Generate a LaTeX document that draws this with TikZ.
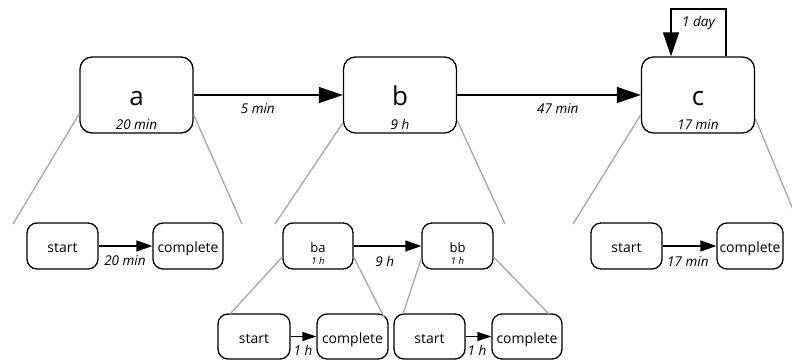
\documentclass[tikz,border=0pt]{standalone}
\usepackage{fontspec}
\setmainfont{Open Sans}
\usetikzlibrary{arrows.meta}
\definecolor{linegray}{RGB}{166,166,166}
\begin{document}
\begin{tikzpicture}[x=1pt,y=-1pt,
  box/.style={draw, line width=1.3pt, inner sep=0pt},
  big/.style={box, rounded corners=12pt, minimum width=113pt, minimum height=76pt,
    font=\fontsize{26}{26}\selectfont, text height=20pt, text depth=0pt},
  sub/.style={box, rounded corners=10pt, minimum height=46pt,
    font=\fontsize{14}{14}\selectfont, text height=12pt, text depth=0pt},
  subsm/.style={sub, font=\fontsize{13}{13}\selectfont},
  bot/.style={sub, minimum height=45pt, text height=13pt},
  dur/.style={font=\fontsize{13.5}{13.5}\selectfont\itshape, inner sep=0pt},
  durs/.style={font=\fontsize{9.5}{9.5}\selectfont\itshape, inner sep=0pt},
  elbl/.style={font=\fontsize{13.5}{13.5}\selectfont\itshape, inner sep=0pt, anchor=base},
  conn/.style={line width=1.3pt},
  arrbig/.style={conn, -{Triangle[length=24pt,width=16pt]}},
  arrmid/.style={conn, -{Triangle[length=16pt,width=11pt]}},
  arrsm/.style={conn, -{Triangle[length=14pt,width=9pt]}},
  gline/.style={draw=linegray, line width=1.3pt}
]
\useasboundingbox (0,0) rectangle (792,361);

% top level
\node[big, label={[dur, anchor=base, yshift=4pt]south:20 min}] (a) at (136.5,95) {a};
\node[big, label={[dur, anchor=base, yshift=4pt]south:9 h}] (b) at (400,95) {b};
\node[big, label={[dur, anchor=base, yshift=4pt]south:17 min}] (c) at (698,95) {c};

\draw[arrbig] (a) -- node[elbl, pos=0.43, yshift=-18pt] {5 min} (b);
\draw[arrbig] (b) -- node[elbl, pos=0.548, yshift=-18pt] {47 min} (c);

\coordinate (cR) at (726,9);
\coordinate (cL) at (671,9);
\draw[arrbig] (c.north -| cR) -- (cR) -- node[elbl, yshift=-18pt] {1 day} (cL) -- (c.north -| cL);

% second level
\node[sub, minimum width=71pt] (as) at (62.5,246) {start};
\node[sub, minimum width=70pt] (ac) at (188,246) {complete};
\node[subsm, minimum width=70pt, label={[durs, anchor=base, yshift=5pt]south:1 h}] (ba) at (318,246) {ba};
\node[subsm, minimum width=71pt, label={[durs, anchor=base, yshift=5pt]south:1 h}] (bb) at (457.5,246) {bb};
\node[sub, minimum width=71pt] (cs) at (626.5,246) {start};
\node[sub, minimum width=66pt] (cc) at (750,246) {complete};

\draw[arrmid] (as) -- node[elbl, pos=0.49, yshift=-19.7pt] {20 min} (ac);
\draw[arrmid] (ba) -- node[elbl, pos=0.46, yshift=-20pt] {9 h} (bb);
\draw[arrmid] (cs) -- node[elbl, pos=0.47, yshift=-20pt] {17 min} (cc);

% third level
\node[bot, minimum width=72pt] (bas) at (254,336.5) {start};
\node[bot, minimum width=71pt] (bac) at (352.5,336.5) {complete};
\node[bot, minimum width=71pt] (bbs) at (429.5,336.5) {start};
\node[bot, minimum width=70pt] (bbc) at (527,336.5) {complete};

\draw[arrsm] (bas) -- node[elbl, pos=0.48, yshift=-18.5pt] {1 h} (bac);
\draw[arrsm] (bbs) -- node[elbl, pos=0.44, yshift=-18.5pt] {1 h} (bbc);

% expansion lines
\coordinate (aL) at (13,224);
\coordinate (aR) at (242,224);
\coordinate (bL) at (275,224);
\coordinate (bR) at (505,224);
\coordinate (cLo) at (573,224);
\coordinate (cRo) at (799,224);
\coordinate (baL) at (230,314);
\coordinate (baR) at (384,317);
\coordinate (bbL) at (403,314);
\coordinate (bbR) at (549,314);
\draw[gline] (a.198) -- (aL);
\draw[gline] (a.341) -- (aR);
\draw[gline] (b.206) -- (bL);
\draw[gline] (b.336) -- (bR);
\draw[gline] (c.199) -- (cLo);
\draw[gline] (c.338) -- (cRo);
\draw[gline] (ba.197) -- (baL);
\draw[gline] (ba.343) -- (baR);
\draw[gline] (bb.199) -- (bbL);
\draw[gline] (bb.343) -- (bbR);
\end{tikzpicture}
\end{document}
